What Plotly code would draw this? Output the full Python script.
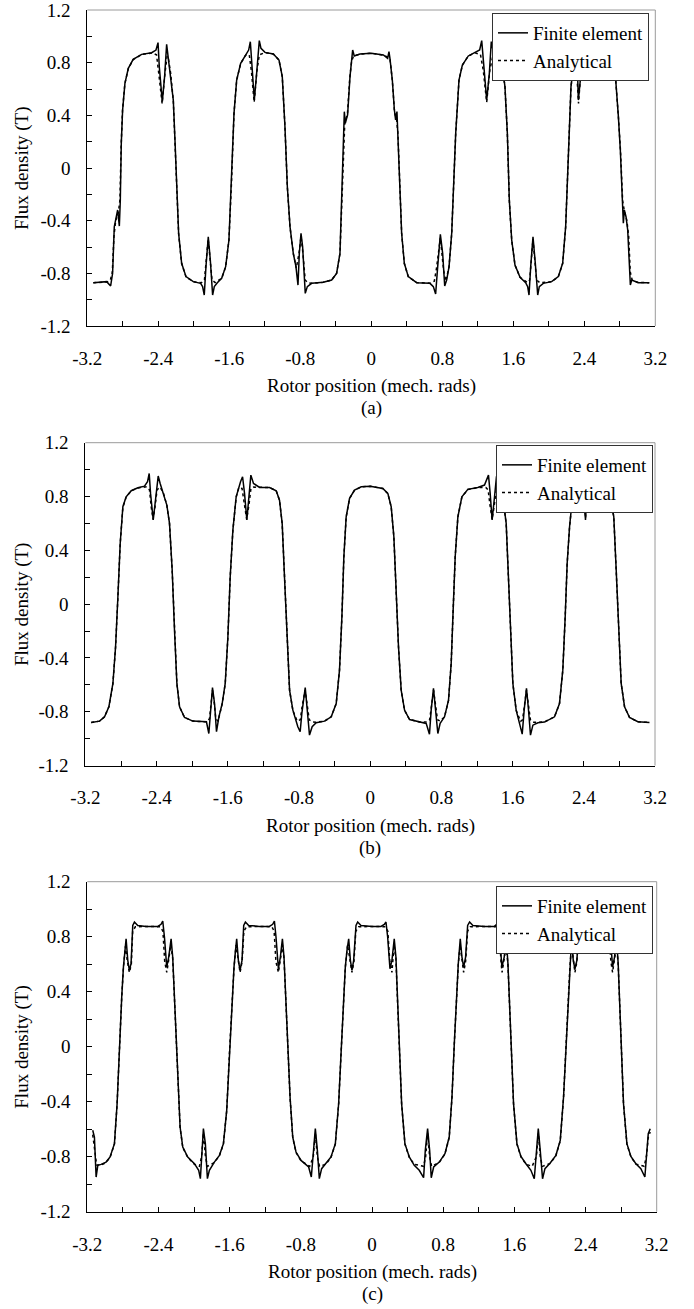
import plotly.graph_objects as go

# digitised waveforms: (rotor position [mech. rad], flux density [T])
a_fe = [(-3.132,-0.871),(-2.982,-0.863),(-2.937,-0.896),(-2.915,-0.800),(-2.896,-0.446),(-2.877,-0.370),(-2.858,-0.319),(-2.839,-0.441),(-2.828,-0.243),(-2.817,0.187),(-2.802,0.441),(-2.776,0.643),(-2.738,0.757),(-2.683,0.825),(-2.588,0.863),(-2.475,0.876),(-2.426,0.896),(-2.403,0.952),(-2.389,0.770),(-2.355,0.504),(-2.329,0.694),(-2.306,0.939),(-2.287,0.833),(-2.261,0.719),(-2.231,0.516),(-2.212,0.213),(-2.193,-0.167),(-2.171,-0.496),(-2.137,-0.724),(-2.088,-0.825),(-2.006,-0.863),(-1.923,-0.876),(-1.901,-0.901),(-1.882,-0.965),(-1.863,-0.749),(-1.837,-0.522),(-1.814,-0.699),(-1.788,-0.965),(-1.769,-0.901),(-1.735,-0.871),(-1.686,-0.838),(-1.641,-0.749),(-1.604,-0.547),(-1.574,-0.091),(-1.547,0.415),(-1.517,0.668),(-1.472,0.795),(-1.416,0.858),(-1.382,0.896),(-1.363,0.959),(-1.348,0.820),(-1.318,0.516),(-1.292,0.719),(-1.262,0.967),(-1.243,0.909),(-1.198,0.878),(-1.104,0.866),(-1.040,0.820),(-1.003,0.694),(-0.973,0.314),(-0.946,-0.142),(-0.916,-0.446),(-0.879,-0.648),(-0.849,-0.749),(-0.826,-0.889),(-0.811,-0.648),(-0.792,-0.496),(-0.774,-0.597),(-0.744,-0.952),(-0.721,-0.901),(-0.672,-0.876),(-0.541,-0.868),(-0.447,-0.851),(-0.391,-0.800),(-0.353,-0.648),(-0.327,-0.142),(-0.312,0.213),(-0.304,0.428),(-0.293,0.339),(-0.267,0.403),(-0.240,0.694),(-0.222,0.820),(-0.210,0.896),(-0.192,0.851),(-0.128,0.866),(0.000,0.871),
        (0.136,0.858),(0.184,0.833),(0.199,0.884),(0.210,0.833),(0.237,0.668),(0.260,0.441),(0.274,0.365),(0.289,0.428),(0.297,0.289),(0.312,0.061),(0.327,-0.243),(0.342,-0.496),(0.372,-0.724),(0.417,-0.825),(0.511,-0.871),(0.661,-0.876),(0.699,-0.901),(0.725,-0.957),(0.748,-0.749),(0.778,-0.504),(0.804,-0.648),(0.827,-0.896),(0.849,-0.851),(0.876,-0.749),(0.906,-0.496),(0.928,-0.142),(0.951,0.263),(0.988,0.668),(1.026,0.782),(1.093,0.851),(1.168,0.876),(1.221,0.896),(1.244,0.967),(1.262,0.820),(1.300,0.516),(1.330,0.719),(1.352,0.960),(1.372,0.890),(1.431,0.851),(1.476,0.770),(1.506,0.618),(1.533,0.263),(1.555,-0.243),(1.582,-0.547),(1.619,-0.737),(1.676,-0.830),(1.739,-0.871),(1.762,-0.901),(1.777,-0.965),(1.796,-0.749),(1.822,-0.522),(1.848,-0.724),(1.875,-0.965),(1.893,-0.901),(1.938,-0.876),(2.032,-0.863),(2.107,-0.825),(2.156,-0.724),(2.190,-0.446),(2.213,-0.041),(2.231,0.314),(2.250,0.618),(2.277,0.770),(2.295,0.880),(2.310,0.947),(2.322,0.760),(2.333,0.516),(2.359,0.694),(2.378,0.947),(2.408,0.884),(2.520,0.871),(2.633,0.863),(2.708,0.808),(2.754,0.668),(2.784,0.390),(2.806,0.137),(2.829,-0.243),(2.840,-0.420),(2.851,-0.319),(2.870,-0.370),(2.889,-0.471),(2.904,-0.749),(2.919,-0.889),(2.934,-0.851),(3.008,-0.871),(3.132,-0.871)]

a_an = [(-3.132,-0.871),(-2.980,-0.866),(-2.940,-0.852),(-2.918,-0.790),(-2.900,-0.520),(-2.880,-0.400),(-2.850,-0.340),(-2.832,-0.240),(-2.818,0.180),(-2.803,0.440),(-2.777,0.640),(-2.738,0.755),(-2.683,0.823),(-2.588,0.862),(-2.470,0.874),(-2.420,0.860),(-2.395,0.720),(-2.357,0.490),(-2.325,0.720),(-2.300,0.850),(-2.285,0.825),(-2.260,0.715),(-2.231,0.512),(-2.212,0.210),(-2.193,-0.170),(-2.171,-0.500),(-2.137,-0.726),(-2.088,-0.826),(-2.006,-0.864),(-1.915,-0.872),(-1.880,-0.850),(-1.860,-0.700),(-1.838,-0.540),(-1.815,-0.700),(-1.795,-0.850),(-1.760,-0.870),(-1.686,-0.838),(-1.641,-0.750),(-1.604,-0.548),(-1.574,-0.092),(-1.547,0.414),(-1.517,0.667),(-1.472,0.794),(-1.416,0.857),(-1.375,0.860),(-1.350,0.730),(-1.320,0.500),(-1.290,0.730),(-1.262,0.860),(-1.198,0.876),(-1.104,0.866),(-1.040,0.820),(-1.003,0.693),(-0.973,0.313),(-0.946,-0.143),(-0.916,-0.447),(-0.879,-0.650),(-0.845,-0.760),(-0.815,-0.650),(-0.792,-0.520),(-0.770,-0.650),(-0.745,-0.850),(-0.715,-0.872),(-0.672,-0.875),(-0.541,-0.868),(-0.447,-0.851),(-0.391,-0.800),(-0.353,-0.650),(-0.327,-0.140),(-0.310,0.260),(-0.298,0.360),(-0.270,0.400),(-0.243,0.680),(-0.222,0.810),(-0.200,0.850),(-0.128,0.866),(0.000,0.871),
        (0.136,0.858),(0.190,0.840),(0.212,0.820),(0.237,0.665),(0.262,0.420),(0.285,0.370),(0.300,0.260),(0.312,0.060),(0.327,-0.245),(0.342,-0.498),(0.372,-0.726),(0.417,-0.826),(0.511,-0.870),(0.661,-0.875),(0.710,-0.860),(0.735,-0.760),(0.778,-0.530),(0.815,-0.780),(0.840,-0.860),(0.876,-0.750),(0.906,-0.498),(0.928,-0.143),(0.951,0.262),(0.988,0.667),(1.026,0.781),(1.093,0.850),(1.168,0.875),(1.230,0.862),(1.262,0.740),(1.300,0.500),(1.335,0.740),(1.372,0.860),(1.431,0.850),(1.476,0.769),(1.506,0.617),(1.533,0.262),(1.555,-0.245),(1.582,-0.548),(1.619,-0.738),(1.676,-0.830),(1.760,-0.870),(1.785,-0.850),(1.800,-0.720),(1.822,-0.540),(1.845,-0.720),(1.862,-0.850),(1.900,-0.872),(2.032,-0.864),(2.107,-0.826),(2.156,-0.726),(2.190,-0.448),(2.213,-0.042),(2.231,0.313),(2.250,0.617),(2.277,0.769),(2.300,0.860),(2.315,0.720),(2.335,0.490),(2.360,0.720),(2.385,0.860),(2.520,0.870),(2.633,0.862),(2.708,0.807),(2.754,0.667),(2.784,0.389),(2.808,0.130),(2.832,-0.250),(2.855,-0.340),(2.880,-0.400),(2.900,-0.520),(2.918,-0.790),(2.940,-0.852),(3.008,-0.870),(3.132,-0.871)]

b_fe = [(-3.135,-0.880),(-3.041,-0.870),(-2.985,-0.838),(-2.936,-0.763),(-2.891,-0.590),(-2.861,-0.317),(-2.835,0.055),(-2.809,0.451),(-2.779,0.724),(-2.742,0.798),(-2.685,0.843),(-2.610,0.865),(-2.536,0.877),(-2.502,0.910),(-2.483,0.971),(-2.468,0.823),(-2.438,0.625),(-2.412,0.798),(-2.382,0.952),(-2.360,0.897),(-2.322,0.823),(-2.285,0.736),(-2.255,0.600),(-2.225,0.253),(-2.199,-0.193),(-2.172,-0.590),(-2.142,-0.763),(-2.086,-0.843),(-1.993,-0.870),(-1.840,-0.875),(-1.813,-0.962),(-1.794,-0.763),(-1.772,-0.620),(-1.749,-0.739),(-1.727,-0.949),(-1.700,-0.838),(-1.663,-0.739),(-1.629,-0.590),(-1.599,-0.243),(-1.573,0.203),(-1.543,0.550),(-1.506,0.798),(-1.476,0.872),(-1.457,0.910),(-1.434,0.947),(-1.412,0.823),(-1.386,0.625),(-1.363,0.798),(-1.341,0.959),(-1.311,0.897),(-1.243,0.867),(-1.131,0.867),(-1.056,0.843),(-1.019,0.773),(-0.989,0.600),(-0.963,0.203),(-0.936,-0.243),(-0.906,-0.639),(-0.869,-0.788),(-0.813,-0.912),(-0.787,-0.949),(-0.768,-0.813),(-0.730,-0.620),(-0.708,-0.763),(-0.682,-0.974),(-0.652,-0.912),(-0.607,-0.882),(-0.513,-0.870),(-0.438,-0.838),(-0.382,-0.739),(-0.345,-0.491),(-0.318,-0.094),(-0.296,0.352),(-0.270,0.649),(-0.232,0.786),(-0.176,0.848),(-0.101,0.872),(0.000,0.877),
        (0.142,0.860),(0.198,0.823),(0.236,0.724),(0.266,0.501),(0.292,0.055),(0.318,-0.317),(0.348,-0.639),(0.386,-0.788),(0.442,-0.858),(0.554,-0.877),(0.629,-0.887),(0.666,-0.967),(0.685,-0.788),(0.711,-0.627),(0.734,-0.763),(0.760,-0.962),(0.786,-0.887),(0.835,-0.838),(0.880,-0.714),(0.910,-0.441),(0.932,-0.045),(0.955,0.352),(0.985,0.649),(1.030,0.798),(1.097,0.853),(1.209,0.867),(1.284,0.885),(1.329,0.959),(1.348,0.823),(1.370,0.625),(1.397,0.798),(1.419,0.950),(1.453,0.885),(1.490,0.798),(1.528,0.600),(1.554,0.178),(1.577,-0.193),(1.603,-0.590),(1.640,-0.788),(1.685,-0.912),(1.708,-0.967),(1.730,-0.788),(1.756,-0.627),(1.779,-0.788),(1.801,-0.974),(1.828,-0.900),(1.884,-0.882),(1.958,-0.877),(2.071,-0.838),(2.127,-0.739),(2.164,-0.491),(2.191,-0.094),(2.213,0.302),(2.240,0.575),(2.266,0.748),(2.320,0.840),(2.390,0.940),(2.419,0.625),(2.445,0.940),(2.520,0.875),(2.640,0.850),(2.700,0.790),(2.737,0.649),(2.764,0.253),(2.790,-0.193),(2.820,-0.590),(2.858,-0.763),(2.914,-0.843),(3.007,-0.875),(3.138,-0.880)]

b_an = [(-3.135,-0.880),(-3.041,-0.870),(-2.985,-0.838),(-2.936,-0.763),(-2.891,-0.592),(-2.861,-0.320),(-2.835,0.050),(-2.809,0.448),(-2.779,0.720),(-2.742,0.796),(-2.685,0.842),(-2.610,0.864),(-2.510,0.872),(-2.480,0.850),(-2.460,0.720),(-2.440,0.630),(-2.418,0.720),(-2.395,0.850),(-2.360,0.870),(-2.322,0.822),(-2.285,0.735),(-2.255,0.598),(-2.225,0.250),(-2.199,-0.195),(-2.172,-0.592),(-2.142,-0.764),(-2.086,-0.843),(-1.993,-0.870),(-1.830,-0.876),(-1.805,-0.850),(-1.790,-0.740),(-1.772,-0.640),(-1.752,-0.740),(-1.735,-0.850),(-1.710,-0.872),(-1.663,-0.742),(-1.629,-0.592),(-1.599,-0.245),(-1.573,0.200),(-1.543,0.548),(-1.506,0.796),(-1.476,0.866),(-1.440,0.860),(-1.415,0.740),(-1.388,0.630),(-1.362,0.740),(-1.340,0.860),(-1.311,0.870),(-1.243,0.867),(-1.131,0.867),(-1.056,0.842),(-1.019,0.772),(-0.989,0.598),(-0.963,0.200),(-0.936,-0.245),(-0.906,-0.640),(-0.869,-0.790),(-0.820,-0.870),(-0.785,-0.860),(-0.765,-0.760),(-0.731,-0.640),(-0.705,-0.760),(-0.685,-0.860),(-0.652,-0.876),(-0.607,-0.878),(-0.513,-0.870),(-0.438,-0.838),(-0.382,-0.740),(-0.345,-0.492),(-0.318,-0.096),(-0.296,0.350),(-0.270,0.647),(-0.232,0.785),(-0.176,0.847),(-0.101,0.871),(0.000,0.876),
        (0.142,0.859),(0.198,0.822),(0.236,0.722),(0.266,0.498),(0.292,0.052),(0.318,-0.320),(0.348,-0.641),(0.386,-0.790),(0.442,-0.858),(0.554,-0.876),(0.640,-0.876),(0.668,-0.860),(0.688,-0.760),(0.712,-0.640),(0.736,-0.760),(0.756,-0.860),(0.786,-0.870),(0.835,-0.838),(0.880,-0.716),(0.910,-0.443),(0.932,-0.047),(0.955,0.350),(0.985,0.647),(1.030,0.796),(1.097,0.852),(1.209,0.866),(1.300,0.866),(1.325,0.850),(1.345,0.740),(1.370,0.630),(1.395,0.740),(1.420,0.860),(1.453,0.880),(1.490,0.796),(1.528,0.598),(1.554,0.176),(1.577,-0.195),(1.603,-0.592),(1.640,-0.790),(1.690,-0.872),(1.712,-0.860),(1.732,-0.760),(1.756,-0.640),(1.780,-0.760),(1.800,-0.860),(1.828,-0.878),(1.884,-0.880),(1.958,-0.876),(2.071,-0.838),(2.127,-0.740),(2.164,-0.492),(2.191,-0.096),(2.213,0.300),(2.240,0.573),(2.266,0.746),(2.320,0.838),(2.395,0.860),(2.419,0.640),(2.440,0.860),(2.520,0.874),(2.640,0.850),(2.700,0.789),(2.737,0.647),(2.764,0.250),(2.790,-0.195),(2.820,-0.592),(2.858,-0.764),(2.914,-0.843),(3.007,-0.875),(3.138,-0.880)]

c_fe = [(-3.139,-0.608),(-3.120,-0.657),(-3.101,-0.948),(-3.082,-0.863),(-3.045,-0.856),(-2.989,-0.839),(-2.944,-0.802),(-2.895,-0.705),(-2.865,-0.415),(-2.839,0.022),(-2.813,0.361),(-2.794,0.579),(-2.779,0.701),(-2.764,0.785),(-2.745,0.628),(-2.727,0.555),(-2.708,0.604),(-2.689,0.882),(-2.670,0.907),(-2.633,0.882),(-2.539,0.875),(-2.408,0.875),(-2.371,0.890),(-2.352,0.914),(-2.333,0.798),(-2.307,0.579),(-2.285,0.652),(-2.258,0.785),(-2.240,0.652),(-2.221,0.361),(-2.202,0.022),(-2.184,-0.293),(-2.157,-0.584),(-2.127,-0.730),(-2.071,-0.802),(-1.996,-0.851),(-1.948,-0.899),(-1.929,-0.960),(-1.914,-0.754),(-1.895,-0.596),(-1.873,-0.705),(-1.850,-0.960),(-1.828,-0.899),(-1.772,-0.839),(-1.715,-0.790),(-1.670,-0.705),(-1.633,-0.463),(-1.603,-0.051),(-1.573,0.313),(-1.551,0.579),(-1.536,0.688),(-1.521,0.785),(-1.502,0.628),(-1.483,0.555),(-1.461,0.628),(-1.442,0.882),(-1.423,0.907),(-1.386,0.882),(-1.266,0.875),(-1.154,0.875),(-1.116,0.890),(-1.097,0.914),(-1.079,0.798),(-1.052,0.567),(-1.030,0.652),(-1.007,0.785),(-0.989,0.652),(-0.966,0.313),(-0.948,0.022),(-0.921,-0.366),(-0.891,-0.657),(-0.854,-0.766),(-0.798,-0.827),(-0.712,-0.875),(-0.682,-0.948),(-0.659,-0.754),(-0.637,-0.596),(-0.614,-0.754),(-0.592,-0.960),(-0.566,-0.887),(-0.517,-0.851),(-0.461,-0.802),(-0.412,-0.705),(-0.375,-0.415),(-0.348,-0.051),(-0.322,0.313),(-0.300,0.579),(-0.281,0.701),(-0.262,0.785),(-0.243,0.628),(-0.225,0.555),(-0.206,0.628),(-0.180,0.882),(-0.161,0.907),(-0.124,0.882),(0.000,0.875),
        (0.101,0.875),(0.138,0.890),(0.157,0.907),(0.176,0.798),(0.202,0.567),(0.224,0.628),(0.250,0.785),(0.269,0.652),(0.288,0.313),(0.310,-0.051),(0.333,-0.415),(0.370,-0.705),(0.419,-0.802),(0.475,-0.863),(0.531,-0.899),(0.580,-0.953),(0.599,-0.754),(0.625,-0.596),(0.648,-0.754),(0.666,-0.953),(0.693,-0.875),(0.756,-0.839),(0.820,-0.778),(0.868,-0.657),(0.899,-0.366),(0.925,0.022),(0.947,0.361),(0.970,0.604),(0.992,0.785),(1.011,0.652),(1.030,0.579),(1.052,0.652),(1.075,0.882),(1.097,0.907),(1.134,0.882),(1.262,0.875),(1.375,0.875),(1.412,0.895),(1.441,0.749),(1.460,0.579),(1.486,0.652),(1.509,0.785),(1.528,0.604),(1.547,0.264),(1.569,-0.075),(1.591,-0.415),(1.629,-0.705),(1.674,-0.798),(1.730,-0.851),(1.786,-0.899),(1.824,-0.960),(1.846,-0.754),(1.869,-0.596),(1.891,-0.754),(1.917,-0.960),(1.944,-0.887),(2.003,-0.846),(2.067,-0.790),(2.116,-0.681),(2.153,-0.366),(2.180,-0.002),(2.206,0.361),(2.224,0.579),(2.243,0.785),(2.262,0.628),(2.281,0.567),(2.303,0.628),(2.326,0.882),(2.348,0.907),(2.423,0.875),(2.610,0.875),(2.666,0.895),(2.685,0.749),(2.704,0.579),(2.726,0.652),(2.749,0.785),(2.767,0.604),(2.786,0.264),(2.805,-0.075),(2.827,-0.415),(2.865,-0.705),(2.910,-0.798),(2.966,-0.851),(3.022,-0.887),(3.067,-0.948),(3.086,-0.778),(3.105,-0.633),(3.127,-0.596)]

c_an = [(-3.139,-0.640),(-3.115,-0.760),(-3.095,-0.860),(-3.045,-0.862),(-2.989,-0.842),(-2.944,-0.805),(-2.895,-0.708),(-2.865,-0.418),(-2.839,0.020),(-2.813,0.358),(-2.794,0.575),(-2.772,0.730),(-2.750,0.620),(-2.727,0.540),(-2.705,0.600),(-2.690,0.840),(-2.660,0.872),(-2.539,0.875),(-2.380,0.872),(-2.350,0.840),(-2.330,0.620),(-2.307,0.540),(-2.283,0.640),(-2.262,0.740),(-2.240,0.640),(-2.221,0.358),(-2.202,0.020),(-2.184,-0.296),(-2.157,-0.587),(-2.127,-0.733),(-2.071,-0.805),(-1.996,-0.855),(-1.940,-0.870),(-1.915,-0.800),(-1.895,-0.630),(-1.872,-0.800),(-1.850,-0.870),(-1.772,-0.842),(-1.715,-0.793),(-1.670,-0.708),(-1.633,-0.466),(-1.603,-0.054),(-1.573,0.310),(-1.551,0.575),(-1.528,0.740),(-1.505,0.630),(-1.483,0.540),(-1.460,0.620),(-1.440,0.840),(-1.410,0.872),(-1.266,0.875),(-1.125,0.872),(-1.100,0.840),(-1.080,0.620),(-1.052,0.540),(-1.028,0.640),(-1.007,0.740),(-0.989,0.640),(-0.966,0.310),(-0.948,0.020),(-0.921,-0.369),(-0.891,-0.660),(-0.854,-0.769),(-0.798,-0.830),(-0.700,-0.870),(-0.660,-0.800),(-0.637,-0.630),(-0.614,-0.800),(-0.590,-0.870),(-0.517,-0.854),(-0.461,-0.805),(-0.412,-0.708),(-0.375,-0.418),(-0.348,-0.054),(-0.322,0.310),(-0.300,0.575),(-0.275,0.740),(-0.250,0.630),(-0.225,0.540),(-0.203,0.620),(-0.182,0.840),(-0.150,0.872),(0.000,0.875),
        (0.150,0.872),(0.178,0.840),(0.200,0.620),(0.224,0.540),(0.248,0.740),(0.269,0.640),(0.288,0.310),(0.310,-0.054),(0.333,-0.418),(0.370,-0.708),(0.419,-0.805),(0.475,-0.855),(0.580,-0.870),(0.603,-0.800),(0.625,-0.630),(0.648,-0.800),(0.670,-0.870),(0.756,-0.842),(0.820,-0.781),(0.868,-0.660),(0.899,-0.369),(0.925,0.020),(0.947,0.358),(0.970,0.600),(0.990,0.740),(1.011,0.640),(1.030,0.540),(1.052,0.620),(1.075,0.840),(1.105,0.872),(1.262,0.875),(1.400,0.872),(1.430,0.840),(1.450,0.620),(1.462,0.540),(1.486,0.640),(1.507,0.740),(1.528,0.600),(1.547,0.261),(1.569,-0.078),(1.591,-0.418),(1.629,-0.708),(1.674,-0.801),(1.730,-0.854),(1.800,-0.870),(1.848,-0.800),(1.869,-0.630),(1.891,-0.800),(1.915,-0.870),(2.003,-0.849),(2.067,-0.793),(2.116,-0.684),(2.153,-0.369),(2.180,-0.005),(2.206,0.358),(2.224,0.575),(2.243,0.740),(2.262,0.620),(2.281,0.540),(2.303,0.620),(2.326,0.840),(2.355,0.872),(2.610,0.872),(2.660,0.840),(2.685,0.620),(2.704,0.540),(2.726,0.640),(2.749,0.740),(2.767,0.600),(2.786,0.261),(2.805,-0.078),(2.827,-0.418),(2.865,-0.708),(2.910,-0.801),(2.966,-0.854),(3.060,-0.870),(3.086,-0.790),(3.105,-0.660),(3.127,-0.620)]

x_tick_vals = [-3.2, -2.8, -2.4, -2.0, -1.6, -1.2, -0.8, -0.4, 0, 0.4, 0.8, 1.2, 1.6, 2.0, 2.4, 2.8, 3.2]
x_tick_text = ['-3.2', '', '-2.4', '', '-1.6', '', '-0.8', '', '0', '', '0.8', '', '1.6', '', '2.4', '', '3.2']
y_tick_vals = [-1.2, -1.0, -0.8, -0.6, -0.4, -0.2, 0, 0.2, 0.4, 0.6, 0.8, 1.0, 1.2]
y_tick_text = ['-1.2', '', '-0.8', '', '-0.4', '', '0', '', '0.4', '', '0.8', '', '1.2']

series_names = ['Finite element', 'Analytical']
panel_labels = ['(a)', '(b)', '(c)']
x_title = 'Rotor position (mech. rads)'
y_title = 'Flux density (T)'

W, H = 694, 1309
FONT = '"Liberation Serif", "Times New Roman", serif'
FS = 19

# plot boxes in page pixels: left, right, top, bottom
boxes = [(87.3, 655.3, 10.0, 326.0), (85.4, 655.0, 442.7, 765.5), (87.3, 656.7, 881.7, 1211.7)]
# legend top-right corners in page pixels
legend_corners = [(649, 13), (653, 445), (653, 886)]

fig = go.Figure()
layout = {}
annotations = []
shapes = []

for i, (fe, an) in enumerate([(a_fe, a_an), (b_fe, b_an), (c_fe, c_an)]):
    s = '' if i == 0 else str(i + 1)
    leg = 'legend' + s
    fig.add_trace(go.Scatter(
        x=[p[0] for p in fe], y=[p[1] for p in fe],
        mode='lines', name=series_names[0],
        line=dict(color='black', width=1.5),
        xaxis='x' + s, yaxis='y' + s, legend=leg))
    fig.add_trace(go.Scatter(
        x=[p[0] for p in an], y=[p[1] for p in an],
        mode='lines', name=series_names[1],
        line=dict(color='black', width=1.5, dash='3px,3px'),
        xaxis='x' + s, yaxis='y' + s, legend=leg))

    left, right, top, bottom = boxes[i]
    layout['xaxis' + s] = dict(
        domain=[left / W, right / W], anchor='y' + s, range=[-3.2, 3.2],
        tickmode='array', tickvals=x_tick_vals, ticktext=x_tick_text,
        ticks='inside', ticklen=5, tickcolor='black',
        showline=True, linecolor='black', linewidth=1,
        showgrid=False, zeroline=False, automargin=False, ticklabelstandoff=15,
        ticklabeloverflow='allow',
        tickfont=dict(family=FONT, size=FS, color='black'))
    layout['yaxis' + s] = dict(
        domain=[1 - bottom / H, 1 - top / H], anchor='x' + s, range=[-1.2, 1.2],
        tickmode='array', tickvals=y_tick_vals, ticktext=y_tick_text,
        ticks='inside', ticklen=5, tickcolor='black',
        showline=True, linecolor='black', linewidth=1,
        showgrid=False, zeroline=False, automargin=False, ticklabelstandoff=12,
        ticklabeloverflow='allow',
        tickfont=dict(family=FONT, size=FS, color='black'))

    # grey top and right frame edges
    shapes.append(dict(type='line', xref=f'x{s} domain', yref=f'y{s} domain',
                       x0=0, x1=1, y0=1, y1=1, line=dict(color='#9a9a9a', width=1)))
    shapes.append(dict(type='line', xref=f'x{s} domain', yref=f'y{s} domain',
                       x0=1, x1=1, y0=0, y1=1, line=dict(color='#9a9a9a', width=1)))

    cx = (left + right) / 2 / W
    annotations.append(dict(text=y_title, textangle=-90, xref='paper', yref='paper',
                            x=22 / W, y=1 - (top + bottom) / 2 / H, showarrow=False,
                            xanchor='center', yanchor='middle',
                            font=dict(family=FONT, size=FS, color='black')))
    annotations.append(dict(text=x_title, xref='paper', yref='paper',
                            x=cx, y=1 - (bottom + 60) / H, showarrow=False,
                            xanchor='center', yanchor='middle',
                            font=dict(family=FONT, size=FS, color='black')))
    annotations.append(dict(text=panel_labels[i], xref='paper', yref='paper',
                            x=cx, y=1 - (bottom + 82) / H, showarrow=False,
                            xanchor='center', yanchor='middle',
                            font=dict(family=FONT, size=FS, color='black')))

    lx, ly = legend_corners[i]
    layout[leg] = dict(x=lx / W, y=1 - ly / H, xanchor='right', yanchor='top',
                       xref='paper', yref='paper', bgcolor='white',
                       bordercolor='#333333', borderwidth=1, itemwidth=30,
                       font=dict(family=FONT, size=FS, color='black'))

fig.update_layout(
    template='none',
    width=W, height=H,
    margin=dict(l=0, r=0, t=0, b=0),
    paper_bgcolor='white', plot_bgcolor='white',
    showlegend=True,
    font=dict(family=FONT, size=FS, color='black'),
    annotations=annotations, shapes=shapes,
    **layout)

# drop the browser's default 8px page margin so the figure sits at the top-left corner
fig.write_html('out.html', config={'displayModeBar': False},
               post_script="document.body.style.margin='0';")
